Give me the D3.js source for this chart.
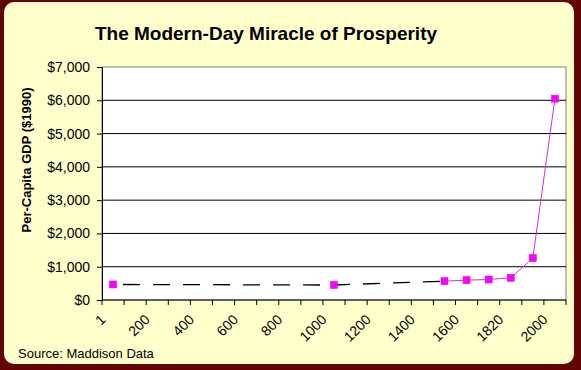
<!DOCTYPE html>
<html lang="en">
<head>
    <meta charset="UTF-8">
    <script src="https://cdn.jsdelivr.net/npm/d3@7/dist/d3.min.js"></script>
    <title>The Modern-Day Miracle of Prosperity</title>
    <style>
        body { margin: 0; }
        svg { display: block; }
    </style>
</head>
<body>

<svg width="581" height="370"></svg>

<script>
// category axis, one slot per year (Excel style)
const categories = ["1", "100", "200", "300", "400", "500", "600", "700", "800", "900",
                    "1000", "1100", "1200", "1300", "1400", "1500", "1600", "1700",
                    "1820", "1900", "2000"];
// per-capita GDP, $1990 (blank where there is no estimate)
const gdp = [467, null, null, null, null, null, null, null, null, null,
             450, null, null, null, null, 566, 596, 615, 667, 1262, 6049];
const yTicks = [0, 1000, 2000, 3000, 4000, 5000, 6000, 7000];
// every other category gets a label
const xLabels = ["1", "200", "400", "600", "800", "1000", "1200", "1400", "1600", "1820", "2000"];

const width = 581, height = 370;
const margin = {top: 67, right: 15, bottom: 70, left: 102};

const points = categories.map((c, i) => ({cat: c, value: gdp[i]}));

const x = d3.scaleBand()
    .domain(categories)
    .range([margin.left, width - margin.right])
    .paddingInner(0).paddingOuter(0);

const y = d3.scaleLinear()
    .domain([0, 7000])
    .range([height - margin.bottom, margin.top]);

const cx = d => x(d.cat) + x.bandwidth() / 2;

const svg = d3.select("svg")
    .style("font-family", "'Liberation Sans', Arial, sans-serif");

// frame
svg.append("rect")
    .attr("width", width).attr("height", height)
    .attr("fill", "#640505");
svg.append("rect")
    .attr("x", 4).attr("y", 2)
    .attr("width", 570).attr("height", 362)
    .attr("rx", 10)
    .attr("fill", "#ffffcc");

// plot area
svg.append("rect")
    .attr("x", margin.left).attr("y", margin.top)
    .attr("width", width - margin.right - margin.left)
    .attr("height", height - margin.bottom - margin.top)
    .attr("fill", "#fff")
    .attr("stroke", "#808080");

// gridlines
svg.append("g")
    .selectAll("line")
    .data(yTicks.slice(1, -1))
    .join("line")
    .attr("x1", margin.left).attr("x2", width - margin.right)
    .attr("y1", d => y(d)).attr("y2", d => y(d))
    .attr("stroke", "#000");

// y axis
svg.append("g")
    .attr("transform", `translate(${margin.left},0)`)
    .call(d3.axisLeft(y).tickValues(yTicks).tickSize(5).tickPadding(7)
        .tickFormat(d => "$" + d3.format(",")(d)))
    .call(g => g.select(".domain").attr("stroke", "#000"))
    .call(g => g.selectAll("text").attr("font-size", 14).attr("font-family", null).attr("fill", "#000"));

// x axis: ticks at category boundaries
const xAxis = svg.append("g")
    .attr("transform", `translate(0,${height - margin.bottom})`);
xAxis.append("line")
    .attr("x1", margin.left).attr("x2", width - margin.right)
    .attr("stroke", "#000");
xAxis.selectAll("line.tick")
    .data(categories.concat([null]))
    .join("line")
    .attr("class", "tick")
    .attr("x1", (d, i) => margin.left + i * x.bandwidth())
    .attr("x2", (d, i) => margin.left + i * x.bandwidth())
    .attr("y1", 0).attr("y2", 5)
    .attr("stroke", "#000");
xAxis.selectAll("text")
    .data(xLabels)
    .join("text")
    .attr("transform", d => `translate(${x(d) + x.bandwidth() / 2 - 10},17) rotate(-45)`)
    .attr("text-anchor", "end")
    .attr("dy", "0.35em")
    .attr("font-size", 14)
    .text(d => d);

// dashed trend through the early estimates
const early = points.filter((d, i) => d.value != null && i <= 15);
svg.append("path")
    .datum(early)
    .attr("fill", "none")
    .attr("stroke", "#000")
    .attr("stroke-width", 1.3)
    .attr("stroke-dasharray", "17,13")
    .attr("stroke-dashoffset", 20)
    .attr("d", d3.line().x(cx).y(d => y(d.value)));

// magenta series (gaps not connected)
svg.append("path")
    .datum(points)
    .attr("fill", "none")
    .attr("stroke", "#cc33cc")
    .attr("stroke-width", 1)
    .attr("d", d3.line().defined(d => d.value != null).x(cx).y(d => y(d.value)));

svg.append("g")
    .selectAll("rect")
    .data(points.filter(d => d.value != null))
    .join("rect")
    .attr("x", d => cx(d) - 3.5)
    .attr("y", d => y(d.value) - 3.5)
    .attr("width", 7).attr("height", 7)
    .attr("fill", "#ff00ff")
    .attr("stroke", "#cc00cc")
    .attr("stroke-width", 0.5);

// titles
svg.append("text")
    .attr("x", 266).attr("y", 40)
    .attr("text-anchor", "middle")
    .attr("font-size", 19)
    .attr("font-weight", "bold")
    .text("The Modern-Day Miracle of Prosperity");

svg.append("text")
    .attr("transform", "translate(31,160) rotate(-90)")
    .attr("text-anchor", "middle")
    .attr("font-size", 13)
    .attr("font-weight", "bold")
    .text("Per-Capita GDP ($1990)");

svg.append("text")
    .attr("x", 18).attr("y", 358)
    .attr("font-size", 13)
    .text("Source: Maddison Data");
</script>

</body>
</html>
